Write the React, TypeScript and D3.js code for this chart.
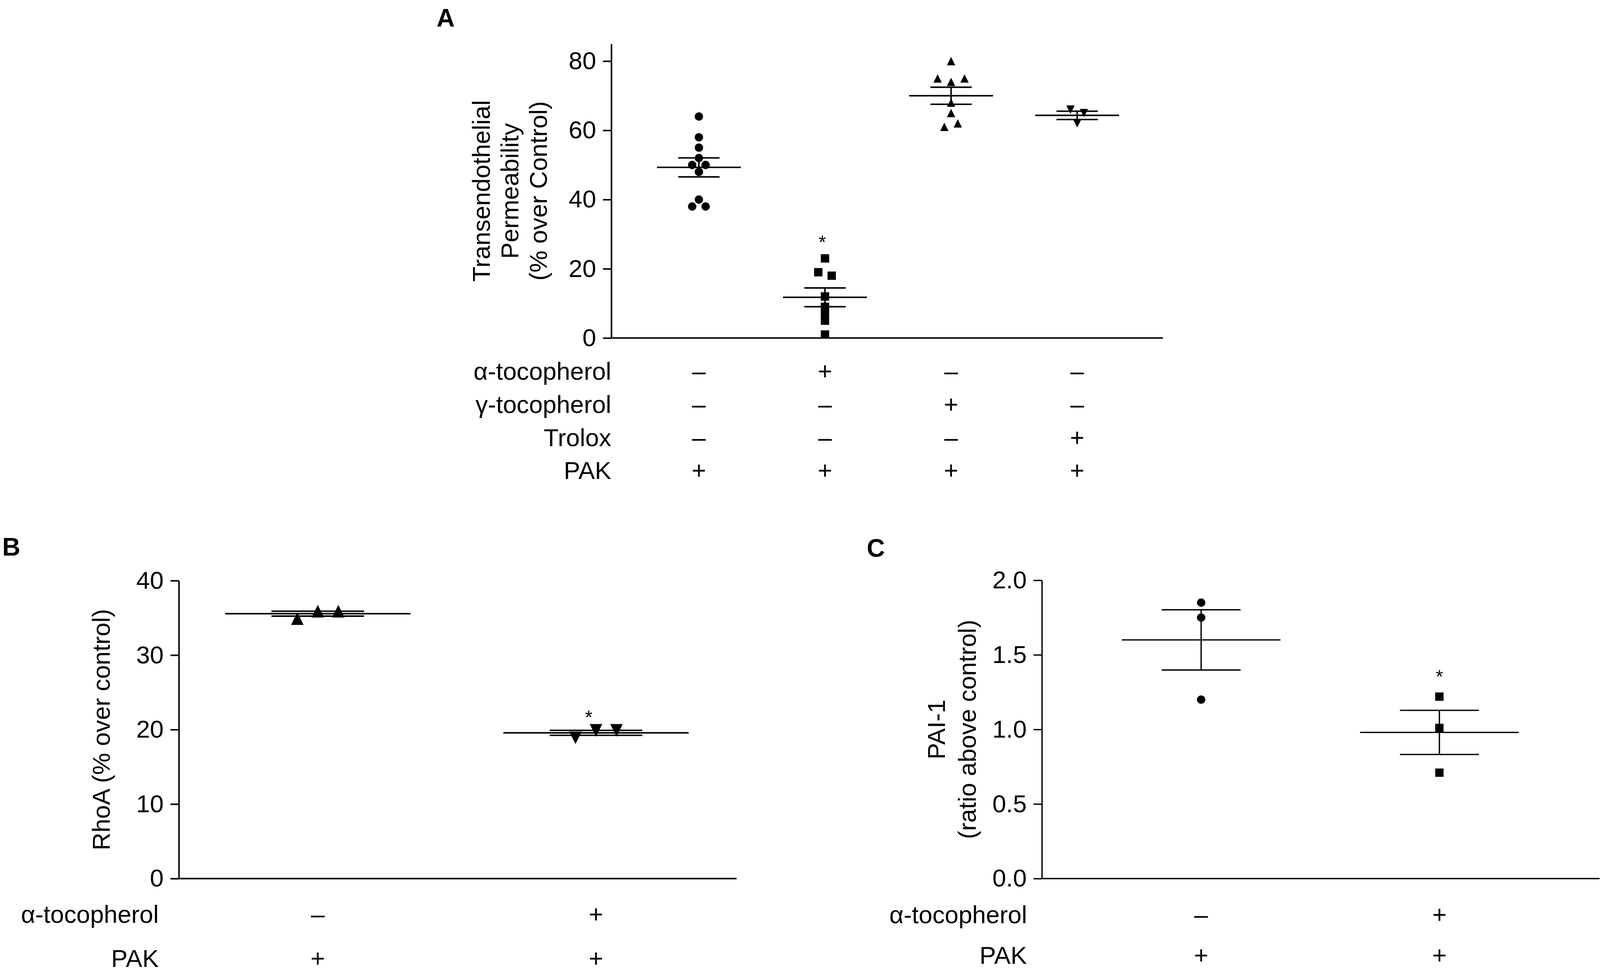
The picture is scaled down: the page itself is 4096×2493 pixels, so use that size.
import React, { useRef, useEffect } from 'react';
import * as d3 from 'd3';

// ---- Panel A: transendothelial permeability (% over Control)
const valuesA = [
  [64, 58, 55, 52, 50, 50, 48, 40, 38, 38],
  [23, 19, 18, 12, 9, 7, 5, 1],
  [80, 75, 75, 74, 68, 65, 62, 61],
  [66, 65, 62],
];
// scatter column used by the point (GraphPad style column scatter)
const slotsA = [
  [0, 0, 0, 0, -1, 1, 0, 0, -1, 1],
  [0, -1, 1, 0, 0, 0, 0, 0],
  [0, -2, 2, 0, 0, 0, 1, -1],
  [-1, 1, 0],
];
const markersA = ['circle', 'square', 'triangle', 'triangleDown'];
const starGroupA = 1;
const starValueA = 29.3;
const yTicksA = [0, 20, 40, 60, 80];
const titleA = ['Transendothelial', 'Permeability', '(% over Control)'];
const rowLabelsA = ['α-tocopherol', 'γ-tocopherol', 'Trolox', 'PAK'];
const treatmentsA = [
  ['–', '+', '–', '–'],
  ['–', '–', '+', '–'],
  ['–', '–', '–', '+'],
  ['+', '+', '+', '+'],
];

// ---- Panel B: RhoA (% over control)
const valuesB = [
  [34.9, 35.9, 35.9],
  [18.9, 19.9, 19.9],
];
const slotsB = [
  [-1, 0, 1],
  [-1, 0, 1],
];
const markersB = ['triangle', 'triangleDown'];
const starGroupB = 1;
const starValueB = 22.4;
const yTicksB = [0, 10, 20, 30, 40];
const titleB = ['RhoA (% over control)'];
const rowLabelsB = ['α-tocopherol', 'PAK'];
const treatmentsB = [
  ['–', '+'],
  ['+', '+'],
];

// ---- Panel C: PAI-1 (ratio above control)
const valuesC = [
  [1.85, 1.75, 1.2],
  [1.22, 1.01, 0.71],
];
const slotsC = [
  [0, 0, 0],
  [0, 0, 0],
];
const markersC = ['circle', 'square'];
const starGroupC = 1;
const starValueC = 1.39;
const yTicksC = [0, 0.5, 1.0, 1.5, 2.0];
const titleC = ['PAI-1', '(ratio above control)'];
const rowLabelsC = ['α-tocopherol', 'PAK'];
const treatmentsC = [
  ['–', '+'],
  ['+', '+'],
];

const FONT = '"Liberation Sans", Arial, Helvetica, sans-serif';
const FS = 65;

function markerPath(kind: string, cx: number, cy: number, s: number) {
  const h = s / 2;
  if (kind === 'triangle') return `M${cx},${cy - h}L${cx + h},${cy + h}L${cx - h},${cy + h}Z`;
  if (kind === 'triangleDown') return `M${cx},${cy + h}L${cx + h},${cy - h}L${cx - h},${cy - h}Z`;
  if (kind === 'square') return `M${cx - h},${cy - h}h${s}v${s}h${-s}Z`;
  const p = d3.path();
  p.arc(cx, cy, h, 0, Math.PI * 2);
  return p.toString();
}

interface PanelProps {
  letter: string;
  letterX: number;
  letterY: number;
  values: number[][];
  slots: number[][];
  markers: string[];
  starGroup: number;
  starValue: number;
  starDx: number;
  yTicks: number[];
  tickFormat: (d: number) => string;
  yDomain: [number, number];
  yRange: [number, number];
  axisX: number;
  axisEnd: number;
  groupX: [number, number];
  slotUnit: number;
  markerSize: number;
  meanHalf: number;
  capHalf: number;
  lineW: number;
  title: string[];
  titleX: number[];
  rowLabels: string[];
  treatments: string[][];
  rowY: number[];
  labelRight: number;
}

const Panel: React.FC<PanelProps> = (p) => {
  const axisRef = useRef<SVGGElement>(null);
  const y = d3.scaleLinear().domain(p.yDomain).range(p.yRange);
  const x = d3.scaleLinear().domain([0, p.values.length - 1]).range(p.groupX);

  useEffect(() => {
    if (!axisRef.current) return;
    const g = d3.select(axisRef.current);
    g.selectAll('*').remove();
    g.call(
      d3.axisLeft(y)
        .tickValues(p.yTicks)
        .tickFormat(p.tickFormat as any)
        .tickSize(22)
        .tickSizeOuter(0)
        .tickPadding(18)
    );
    g.attr('font-size', FS).attr('font-family', FONT);
    g.select('.domain').attr('stroke', '#000').attr('stroke-width', p.lineW);
    g.selectAll('.tick line').attr('stroke', '#000').attr('stroke-width', p.lineW);
    g.selectAll('.tick text').attr('fill', '#000');
  }, []);

  const yMid = (p.yRange[0] + p.yRange[1]) / 2;

  return (
    <g>
      <text x={p.letterX} y={p.letterY} fontFamily={FONT} fontWeight="bold" fontSize={66}>
        {p.letter}
      </text>
      {p.title.map((t, i) => (
        <text
          key={t}
          transform={`translate(${p.titleX[i]},${yMid}) rotate(-90)`}
          textAnchor="middle"
          dy="0.35em"
          fontFamily={FONT}
          fontSize={FS}
        >
          {t}
        </text>
      ))}
      <g ref={axisRef} transform={`translate(${p.axisX},0)`} />
      <line x1={p.axisX} x2={p.axisEnd} y1={y(0)} y2={y(0)} stroke="#000" strokeWidth={p.lineW} />
      {p.values.map((vals, gi) => {
        const cx = x(gi);
        const m = d3.mean(vals) as number;
        const sem = (d3.deviation(vals) as number) / Math.sqrt(vals.length);
        return (
          <g key={gi}>
            <line x1={cx} x2={cx} y1={y(m - sem)} y2={y(m + sem)} stroke="#000" strokeWidth={p.lineW} />
            <line x1={cx - p.meanHalf} x2={cx + p.meanHalf} y1={y(m)} y2={y(m)} stroke="#000" strokeWidth={p.lineW} />
            <line x1={cx - p.capHalf} x2={cx + p.capHalf} y1={y(m + sem)} y2={y(m + sem)} stroke="#000" strokeWidth={p.lineW} />
            <line x1={cx - p.capHalf} x2={cx + p.capHalf} y1={y(m - sem)} y2={y(m - sem)} stroke="#000" strokeWidth={p.lineW} />
            {vals.map((v, i) => (
              <path key={i} d={markerPath(p.markers[gi], cx + p.slots[gi][i] * p.slotUnit, y(v), p.markerSize)} fill="#000" />
            ))}
            {gi === p.starGroup && (
              <text x={cx + p.starDx} y={y(p.starValue)} dy="0.62em" textAnchor="middle" fontFamily={FONT} fontSize={50}>
                *
              </text>
            )}
          </g>
        );
      })}
      {p.rowLabels.map((lab, r) => (
        <g key={lab}>
          <text x={p.labelRight} y={p.rowY[r]} dy="0.35em" textAnchor="end" fontFamily={FONT} fontSize={FS}>
            {lab}
          </text>
          {p.treatments[r].map((s, gi) => (
            <text key={gi} x={x(gi)} y={p.rowY[r]} dy="0.35em" textAnchor="middle" fontFamily={FONT} fontSize={FS}>
              {s}
            </text>
          ))}
        </g>
      ))}
    </g>
  );
};

export default function App() {
  const fmtInt = (d: number) => String(d);
  const fmt1 = d3.format('.1f');
  return (
    <svg
      width={4096}
      height={2493}
      style={{ position: 'absolute', left: 0, top: 0, background: '#fff' }}
    >
      <rect width={4096} height={2493} fill="#fff" />
      <g transform="scale(0.972)">
        <Panel
          letter="A"
          letterX={1150}
          letterY={70}
          values={valuesA}
          slots={slotsA}
          markers={markersA}
          starGroup={starGroupA}
          starValue={starValueA}
          starDx={-7}
          yTicks={yTicksA}
          tickFormat={fmtInt}
          yDomain={[0, 85]}
          yRange={[890, 890 - 85 * 9.1125]}
          axisX={1610}
          axisEnd={3063}
          groupX={[1840.7, 2837]}
          slotUnit={17.7}
          markerSize={22}
          meanHalf={110.5}
          capHalf={54.5}
          lineW={4}
          title={titleA}
          titleX={[1267, 1342, 1418]}
          rowLabels={rowLabelsA}
          treatments={treatmentsA}
          rowY={[977, 1065, 1152, 1239]}
          labelRight={1610}
        />
        <Panel
          letter="B"
          letterX={6}
          letterY={1463}
          values={valuesB}
          slots={slotsB}
          markers={markersB}
          starGroup={starGroupB}
          starValue={starValueB}
          starDx={-19}
          yTicks={yTicksB}
          tickFormat={fmtInt}
          yDomain={[0, 40]}
          yRange={[2313.5, 1529]}
          axisX={471}
          axisEnd={1940}
          groupX={[837, 1569.7]}
          slotUnit={54}
          markerSize={33}
          meanHalf={244}
          capHalf={122}
          lineW={4}
          title={titleB}
          titleX={[266]}
          rowLabels={rowLabelsB}
          treatments={treatmentsB}
          rowY={[2407, 2524]}
          labelRight={418}
        />
        <Panel
          letter="C"
          letterX={2283}
          letterY={1466}
          values={valuesC}
          slots={slotsC}
          markers={markersC}
          starGroup={starGroupC}
          starValue={starValueC}
          starDx={0}
          yTicks={yTicksC}
          tickFormat={fmt1}
          yDomain={[0, 2]}
          yRange={[2313.5, 1528]}
          axisX={2744}
          axisEnd={4213}
          groupX={[3163.5, 3791]}
          slotUnit={0}
          markerSize={22}
          meanHalf={209}
          capHalf={104}
          lineW={3.5}
          title={titleC}
          titleX={[2466, 2547]}
          rowLabels={rowLabelsC}
          treatments={treatmentsC}
          rowY={[2408, 2515]}
          labelRight={2705}
        />
      </g>
    </svg>
  );
}
